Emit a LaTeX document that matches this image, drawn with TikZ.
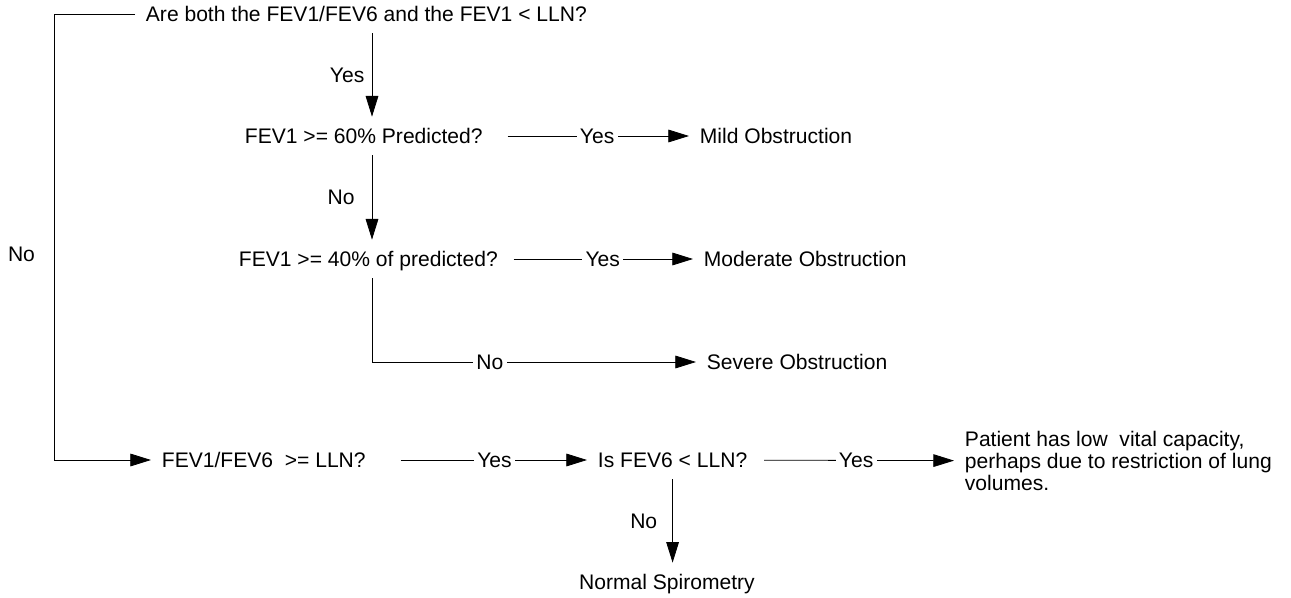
\documentclass[tikz,border=0pt]{standalone}
\usepackage{fontspec}
\setmainfont{Liberation Sans}
\usetikzlibrary{arrows.meta}
\tikzset{
  txt/.style={font=\fontsize{15.8}{16.5}\selectfont},
  box/.style={txt, inner xsep=8pt, inner ysep=8.2pt, text height=11.5pt, text depth=0.7pt, anchor=west},
  note/.style={txt, inner xsep=8pt, align=left, anchor=west},
  link/.style={line width=0.6pt},
  arr/.style={link, -{Triangle[length=15.5pt,width=9.5pt]}},
  lbl/.style={txt, fill=white, inner xsep=2.5pt, inner ysep=1pt}
}

\begin{document}
\begin{tikzpicture}[x=0.75pt,y=-0.75pt]
\useasboundingbox (0,0) rectangle (1291,598);
% questions
\node[box] (both)  at (135,14)  {Are both the FEV1/FEV6 and the FEV1 < LLN?};
\node[box] (pct60) at (234,136) {FEV1 >= 60\% Predicted?};
\node[box] (pct40) at (228,259) {FEV1 >= 40\% of predicted?};
\node[box] (ratio) at (151,460) {FEV1/FEV6\ \ >= LLN?};
\node[box] (fev6)  at (587,460) {Is FEV6 < LLN?};
% results
\node[box] (mild)   at (689,136) {Mild Obstruction};
\node[box] (moder)  at (693,259) {Moderate Obstruction};
\node[box] (severe) at (696,362) {Severe Obstruction};
\node[note] (lowvc) at (954,461) {Patient has low\ \ vital capacity,\\perhaps due to restriction of lung\\volumes.};
\node[box, anchor=center] (normal) at (667,582) {Normal Spirometry};

\coordinate (spine) at (372,0);
\coordinate (rail) at (54,14);

% obstruction branch
\draw[arr] (both.south -| spine) -- node[lbl, left=3pt] {Yes} (pct60.north -| spine);
\draw[arr, shorten <=10.5pt] (pct60) -- node[lbl, pos=0.53] {Yes} (mild);
\draw[arr] (pct60.south -| spine) -- node[lbl, left=10.25pt] {No} (pct40.north -| spine);
\draw[arr, shorten <=3.75pt] (pct40) -- node[lbl, pos=0.51] {Yes} (moder);
\draw[arr] (pct40.south -| spine) |- node[lbl, pos=0.682] {No} (severe);

% no obstruction branch
\draw[arr] (both.west) -- (rail) |- node[lbl, left=11.5pt, pos=0.27] {No} (ratio);
\draw[arr, shorten <=18pt] (ratio) -- node[lbl, pos=0.56] {Yes} (fev6);
\draw[arr, shorten <=4.5pt] (fev6) -- node[lbl, pos=0.5] {Yes} (lowvc);
\draw[arr] (fev6.south) -- node[lbl, left=8.75pt] {No} (fev6.south |- normal.north);
\end{tikzpicture}
\end{document}
